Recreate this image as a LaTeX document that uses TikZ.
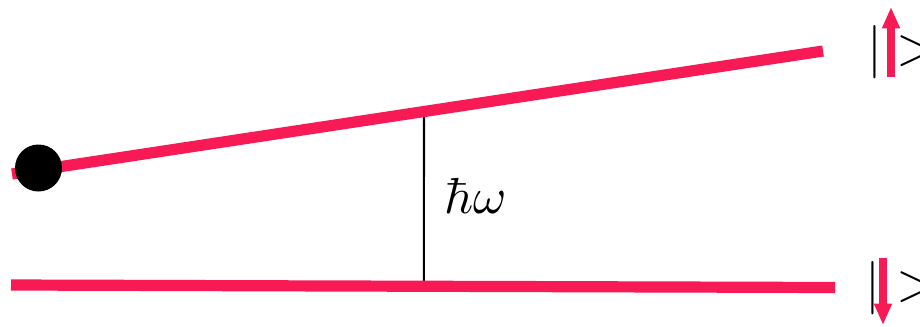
\documentclass[tikz,border=0pt]{standalone}
\usetikzlibrary{arrows.meta,calc}
\definecolor{levelred}{RGB}{248,26,84}

\begin{document}
\begin{tikzpicture}[
  x=0.75pt,y=-0.75pt,
  level/.style={draw=levelred,line width=8.4pt},
  spin/.style={draw=levelred,line width=6pt,-{Triangle[length=16pt,width=12.5pt]}},
  gap/.style={draw=black,line width=1.6pt},
  ket/.style={inner sep=0pt,scale=4},
  label/.style={inner sep=0pt,scale=3.8}
]
  \useasboundingbox (0,0) rectangle (920,326);
  % the two levels
  \coordinate (g0) at (12,174);
  \coordinate (g1) at (823,51);
  \coordinate (e0) at (11,285);
  \coordinate (e1) at (835,287.5);
  \coordinate (w1) at ($(g0)!0.508!(g1)$);
  \coordinate (w0) at ($(e0)!0.501!(e1)$);
  \draw[gap] (w1) -- (w0);
  \draw[level] (g0) -- (g1);
  \draw[level] (e0) -- (e1);
  \fill (38.5,168) circle (23.5) coordinate (dot);
  \node[label,anchor=west] (hw) at (443,196) {$\hbar\omega$};
  % spin states
  \node[ket] (barup) at (875,52) {$|$};
  \node[ket,anchor=west] (closeup) at (895,51) {$>$};
  \coordinate (upT) at (891,77);
  \coordinate (upH) at (891,7);
  \draw[spin] (upT) -- (upH);
  \node[ket] (bardn) at (873,288) {$|$};
  \node[ket,anchor=west] (closedn) at (895,287) {$>$};
  \coordinate (dnT) at (883,258);
  \coordinate (dnH) at (883,325);
  \draw[spin] (dnT) -- (dnH);
\end{tikzpicture}
\end{document}
